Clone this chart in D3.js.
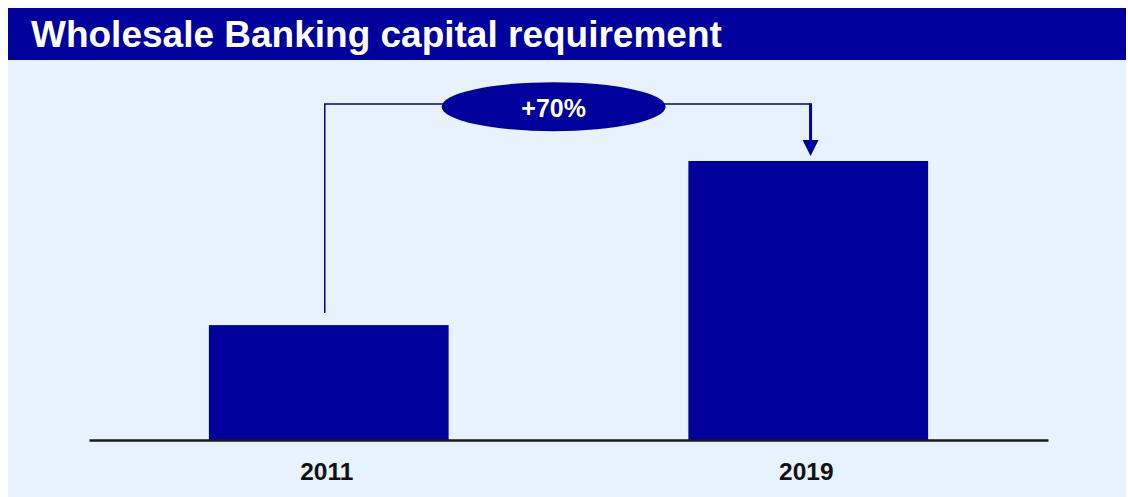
<!DOCTYPE html>
<html>
<head>
<meta charset="utf-8">
<script src="https://cdn.jsdelivr.net/npm/d3@7"></script>
<style>
  html, body { margin: 0; padding: 0; background: #ffffff; }
  svg { display: block; }
  text { font-family: "Liberation Sans", Arial, sans-serif; font-weight: bold; }
</style>
</head>
<body>
<svg id="chart" width="1128" height="497"></svg>
<script>
// Capital requirement, indexed to 2011 = 100
const years = ["2011", "2019"];
const capitalIndex = [100, 170];
const growthLabel = "+70%";
const titleText = "Wholesale Banking capital requirement";

const W = 1128, H = 497;
const navy = "#00009c";
const panelBg = "#e8f2fc";

const svg = d3.select("#chart");

// light panel and title band
svg.append("rect").attr("x", 8).attr("y", 8).attr("width", 1118).attr("height", H - 8).attr("fill", panelBg);
svg.append("rect").attr("x", 8).attr("y", 8).attr("width", 1118).attr("height", 52).attr("fill", navy);
svg.append("text").attr("x", 31).attr("y", 47)
  .attr("fill", "#ffffff").attr("font-size", 37).text(titleText);

// scales (value axis is truncated; bars are schematic)
const x = d3.scaleBand().domain(years).range([89, 1048]).paddingInner(0.5).paddingOuter(0.25);
const y = d3.scaleLinear().domain([51, 170]).range([440, 161]);

const data = years.map((yr, i) => ({ year: yr, value: capitalIndex[i] }));

svg.append("g").selectAll("rect").data(data).join("rect")
  .attr("x", d => x(d.year))
  .attr("y", d => y(d.value))
  .attr("width", x.bandwidth())
  .attr("height", d => y.range()[0] - y(d.value))
  .attr("fill", navy);

// baseline axis with category labels
const axis = svg.append("g").attr("transform", `translate(0,${y.range()[0]})`)
  .call(d3.axisBottom(x).tickSize(0).tickPadding(0));
axis.select(".domain").attr("stroke", "#1a1a1a").attr("stroke-width", 2.5);
axis.selectAll(".tick text")
  .attr("x", -2).attr("y", 40).attr("dy", null)
  .attr("font-size", 24.5).attr("fill", "#111111")
  .style("font-family", "'Liberation Sans', Arial, sans-serif").style("font-weight", "bold");

// growth connector from the 2011 bar to the 2019 bar
const cx0 = x(years[0]) + x.bandwidth() / 2 - 4;
const cx1 = x(years[1]) + x.bandwidth() / 2 + 2.3;
const lineY = 104;
const startY = y(capitalIndex[0]) - 12;
const tipY = y(capitalIndex[1]) - 5;
const headH = 16, headW = 16;

svg.append("path")
  .attr("d", `M${cx0},${startY} V${lineY} H${cx1}`)
  .attr("fill", "none").attr("stroke", navy).attr("stroke-width", 1.5);
svg.append("path")
  .attr("d", `M${cx1},${lineY - 0.75} V${tipY - headH + 1}`)
  .attr("fill", "none").attr("stroke", navy).attr("stroke-width", 3);
svg.append("path")
  .attr("d", `M${cx1 - headW / 2},${tipY - headH} L${cx1 + headW / 2},${tipY - headH} L${cx1},${tipY} Z`)
  .attr("fill", navy);

const ex = (cx0 + cx1) / 2 - 14;
svg.append("ellipse").attr("cx", ex).attr("cy", 106.7).attr("rx", 112).attr("ry", 24.5)
  .attr("fill", navy);
svg.append("text").attr("x", ex).attr("y", 117).attr("text-anchor", "middle")
  .attr("fill", "#ffffff").attr("font-size", 25).text(growthLabel);
</script>
</body>
</html>
